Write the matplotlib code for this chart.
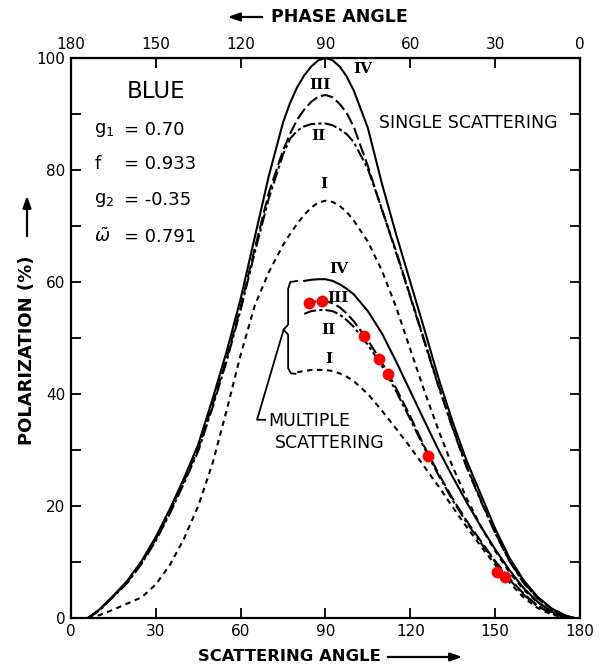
import matplotlib
matplotlib.use("Agg")
import matplotlib.pyplot as plt
import numpy as np

ang = [6, 10, 15, 20, 25, 30, 35, 40, 45, 50, 55, 60, 65, 70, 75,
       77.5, 80, 82.5, 85, 87.5, 90, 92.5, 95, 97.5, 100,
       105, 110, 115, 120, 125, 130, 135, 140, 145, 150, 155, 160, 165, 170, 175, 178]

# single scattering, polarization (%)
single_iv = [0, 1.5, 4, 6.7, 10.2, 14.5, 19.5, 25, 31, 39, 47.5, 57, 68, 79, 88.5,
             92, 94.8, 96.9, 98.5, 99.6, 100, 99.6, 98.5, 96.7, 94.2,
             87.5, 77.5, 68.5, 60, 51.5, 42.8, 35, 28, 22, 16, 10.8, 6.8, 3.8, 1.7, 0.4, 0]
single_iii = [0, 1.4, 3.9, 6.5, 9.9, 14.1, 19, 24.5, 30.3, 38, 46.3, 55.5, 66, 76, 83.5,
              86.5, 89, 90.8, 92.2, 93.1, 93.4, 93, 91.8, 90.2, 87.7,
              80.7, 72.8, 65.5, 57.5, 49.5, 41.5, 34, 27, 21, 15.3, 10.3, 6.4, 3.6, 1.6, 0.4, 0]
single_ii = [0, 1.3, 3.8, 6.3, 9.7, 13.8, 18.7, 24.1, 29.8, 37.5, 45.8, 55, 65.3, 75, 82.8,
             85.6, 87, 87.8, 88.2, 88.3, 88.3, 88, 87.3, 86.4, 85,
             80.2, 73, 65.2, 57.3, 49.3, 41.3, 33.8, 26.8, 20.8, 15.2, 10.2, 6.3, 3.5, 1.6, 0.4, 0]
single_i = [0, 0.5, 1.5, 2.6, 3.7, 6, 9.5, 14.2, 20, 27.5, 37, 47, 55.8, 61.8, 66.6,
            68.6, 70.4, 72, 73.3, 74.2, 74.5, 74.3, 73.6, 72.5, 71,
            67.2, 62, 55.5, 48, 40.5, 33.5, 27, 21.3, 16.3, 12, 8.2, 5.1, 2.8, 1.2, 0.3, 0]

# multiple scattering (curves begin near 80 deg, nan = not drawn)
ang_m = [80, 82.5, 85, 87.5, 90, 92.5, 95, 97.5, 100, 105, 110, 115, 120, 125, 130,
         135, 140, 145, 150, 155, 160, 165, 170, 175, 178]
multi_iv = [np.nan, 60.2, 60.4, 60.5, 60.5, 60.2, 59.6, 58.8, 57.8, 54.8, 50.8, 45.8, 40.5, 35.2, 30,
            25.2, 20.6, 16.3, 12.3, 8.6, 5.4, 2.9, 1.1, 0.25, 0]
multi_iii = [np.nan, 56.1, 56.4, 56.6, 56.6, 56.2, 55.5, 54.4, 53, 49.6, 45.6, 41, 36, 30.6, 25.8,
             21.3, 17.3, 13.7, 10.2, 7.1, 4.4, 2.2, 0.9, 0.2, 0]
multi_ii = [np.nan, 54.3, 54.8, 55, 55, 54.8, 54.2, 53.2, 52, 48.8, 45, 40.5, 35.5, 30.3, 25.5,
            21, 17, 13.4, 10, 6.9, 4.2, 2.1, 0.8, 0.15, 0]
multi_i = [43.9, 44.1, 44.3, 44.3, 44.3, 44.1, 43.7, 43.1, 42.3, 40, 37, 33.8, 30.5, 27, 23.5,
           19.8, 16.2, 12.8, 9.5, 6.4, 3.7, 1.8, 0.6, 0.1, 0]

# observed points (red)
obs_ang = [84.0, 88.9, 103.5, 109.1, 112.0, 126.1, 150.6, 153.4]
obs_pol = [56.2, 56.6, 50.3, 46.3, 43.6, 29.0, 8.2, 7.4]

param_names = ["g$_1$", "f", "g$_2$", r"$\tilde{\omega}$"]
param_values = ["= 0.70", "= 0.933", "= -0.35", "= 0.791"]

styles = {
    "IV": "-",
    "III": (0, (6, 2)),
    "II": (0, (6, 1.5, 1.5, 1.5)),
    "I": (0, (2.6, 2.2)),
}

plt.rcParams["font.family"] = "DejaVu Sans"
plt.rcParams["mathtext.fontset"] = "dejavusans"

fig = plt.figure(figsize=(5.99, 6.69), dpi=100)
ax = fig.add_axes([0.1185, 0.0762, 0.8497, 0.8371])

lw = 1.5
for ys, key in [(single_iv, "IV"), (single_iii, "III"), (single_ii, "II"), (single_i, "I")]:
    ax.plot(ang, ys, color="black", lw=lw, linestyle=styles[key])
for ys, key in [(multi_iv, "IV"), (multi_iii, "III"), (multi_ii, "II"), (multi_i, "I")]:
    ax.plot(ang_m, ys, color="black", lw=lw, linestyle=styles[key])

ax.plot(obs_ang, obs_pol, "o", color="#ff0000", ms=8.5, mec="none", zorder=5)

ax.set_xlim(0, 180)
ax.set_ylim(0, 100)
ax.set_xticks(range(0, 181, 30))
ax.set_yticks(range(0, 101, 20))
ax.set_yticks(range(0, 101, 10), minor=True)
ax.tick_params(which="both", direction="in", length=7, width=1.3, labelsize=11,
               right=True, pad=4)
for s in ax.spines.values():
    s.set_linewidth(1.6)

top = ax.secondary_xaxis("top", functions=(lambda x: 180 - x, lambda x: 180 - x))
top.set_xticks(range(0, 181, 30))
top.tick_params(direction="in", length=7, width=1.3, labelsize=11, pad=4)

# roman numeral labels
serif = dict(family="DejaVu Serif", fontweight="bold", fontsize=11, ha="center", va="center")
for t, x, y in [("IV", 103.1, 98.1), ("III", 88.2, 95.1), ("II", 87.5, 86.0), ("I", 89.3, 77.5),
                ("IV", 94.6, 62.3), ("III", 94.3, 57.2), ("II", 91.1, 51.5), ("I", 91.1, 46.3)]:
    ax.text(x, y, t, **serif)

ax.text(30, 94, "BLUE", fontsize=16.5, ha="center", va="center")
for name, val, y in zip(param_names, param_values, [87.2, 81.0, 74.6, 68.0]):
    ax.text(8.3, y, name, fontsize=13, ha="left", va="center")
    ax.text(18.8, y, val, fontsize=13, ha="left", va="center")

ax.text(108.8, 88.4, "SINGLE SCATTERING", fontsize=12.5, ha="left", va="center")
ax.text(69.8, 35.2, "MULTIPLE", fontsize=12.5, ha="left", va="center")
ax.text(72.0, 31.3, "SCATTERING", fontsize=12.5, ha="left", va="center")

# brace and leader for the multiple scattering group
ax.plot([80.0, 77.6, 76.8, 76.8, 75.2, 76.8, 76.8, 77.8, 79.4],
        [60.2, 60.0, 58.8, 52.4, 51.5, 50.6, 44.6, 43.7, 43.6], color="black", lw=1.3)
ax.plot([75.2, 65.8, 68.7], [51.5, 35.4, 35.4], color="black", lw=1.3)

# axis titles with arrows
fig.text(0.4825, 0.018, "SCATTERING ANGLE", fontsize=11.8, fontweight="bold", ha="center", va="center")
fig.text(0.566, 0.9746, "PHASE ANGLE", fontsize=12.5, fontweight="bold", ha="center", va="center")
fig.text(0.045, 0.477, "POLARIZATION (%)", fontsize=13, fontweight="bold", rotation=90,
         ha="center", va="center")
arrow = dict(arrowstyle="-|>,head_length=0.7,head_width=0.25", color="black", lw=1.6)
ax.annotate("", xy=(465, 12), xytext=(385, 12), xycoords="figure pixels", arrowprops=arrow)
ax.annotate("", xy=(225, 652), xytext=(265, 652), xycoords="figure pixels", arrowprops=arrow)
ax.annotate("", xy=(27, 476), xytext=(27, 430), xycoords="figure pixels", arrowprops=arrow)

fig.savefig("out.png", dpi=100)
